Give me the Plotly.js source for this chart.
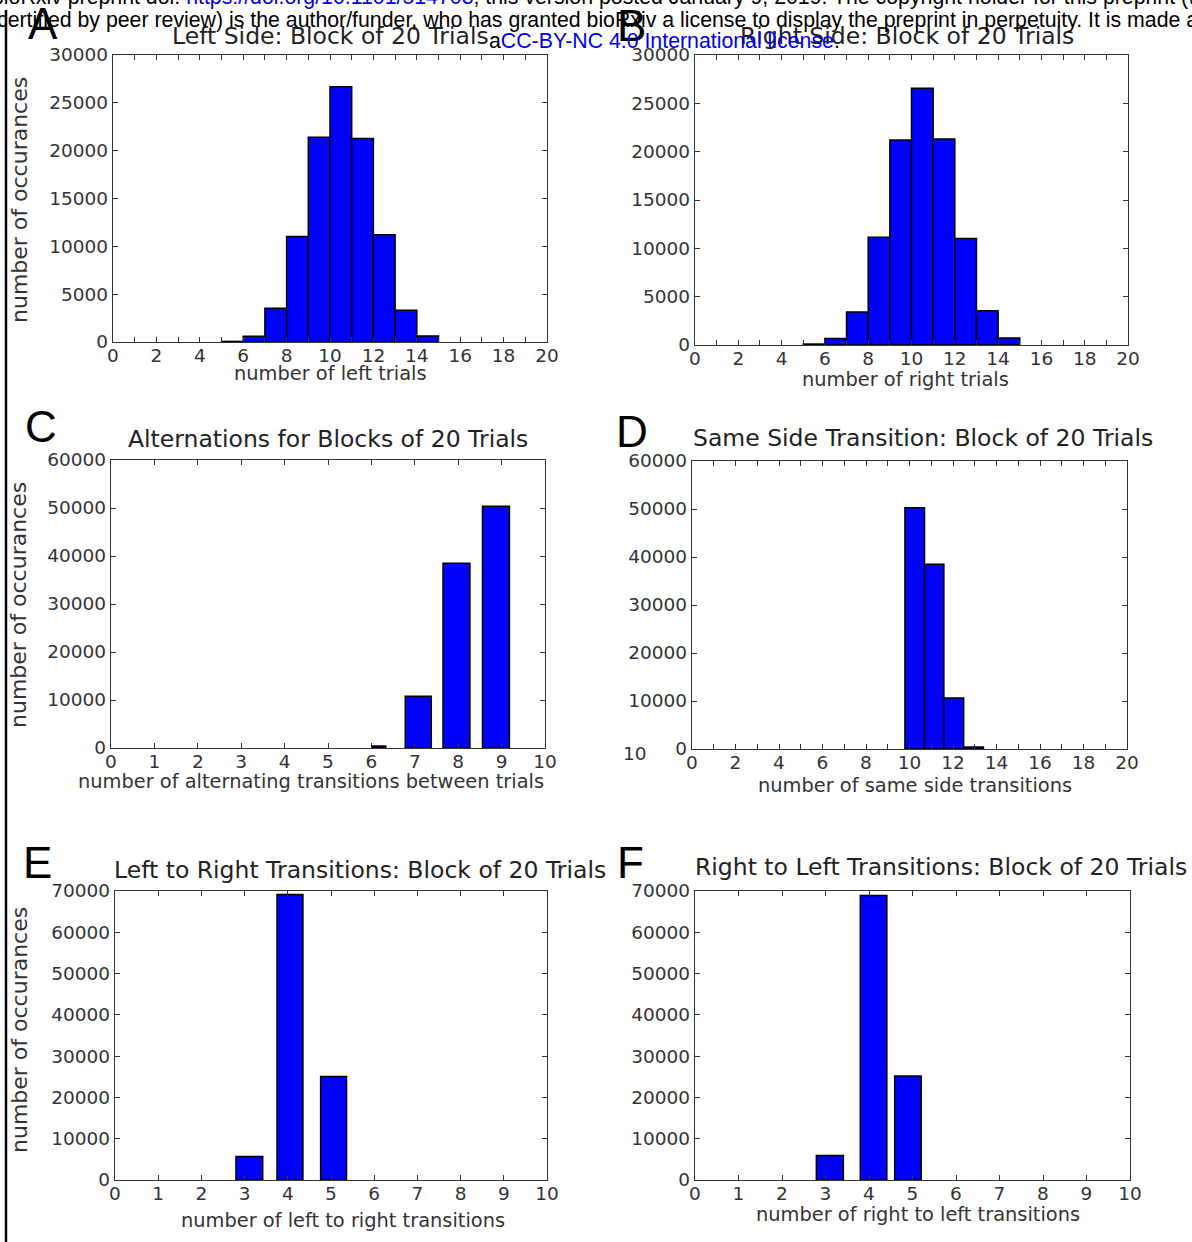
<!DOCTYPE html>
<html>
<head>
<meta charset="utf-8">
<script src="https://cdn.plot.ly/plotly-3.0.1.min.js"></script>
<style>html,body{margin:0;padding:0;background:#fff;}#chart{width:1192px;height:1242px;}</style>
</head>
<body>
<div id="chart"></div>
<script>
// ---------------- DATA ----------------
// A: number of left trials in a block of 20
const leftTrialsBinLo  = [5, 6, 7, 8, 9, 10, 11, 12, 13, 14];
const leftTrialsBinHi  = [6, 7, 8, 9, 10, 11, 12, 13, 14, 15];
const leftTrialsCounts = [60, 590, 3520, 11030, 21400, 26690, 21260, 11210, 3310, 630];

// B: number of right trials in a block of 20
const rightTrialsBinLo  = [5, 6, 7, 8, 9, 10, 11, 12, 13, 14];
const rightTrialsBinHi  = [6, 7, 8, 9, 10, 11, 12, 13, 14, 15];
const rightTrialsCounts = [100, 660, 3410, 11140, 21210, 26550, 21310, 11030, 3550, 720];

// C: number of alternating transitions between trials
const altBinLo  = [6.02, 6.78, 7.65, 8.56];
const altBinHi  = [6.33, 7.38, 8.27, 9.18];
const altCounts = [420, 10770, 38500, 50390];

// D: number of same side transitions
const sameBinLo  = [9.79, 10.69, 11.58, 12.49];
const sameBinHi  = [10.69, 11.58, 12.49, 13.40];
const sameCounts = [50250, 38500, 10630, 420];

// E: number of left to right transitions
const lrBinLo  = [2.80, 3.75, 4.76];
const lrBinHi  = [3.42, 4.35, 5.36];
const lrCounts = [5680, 69180, 25060];

// F: number of right to left transitions
const rlBinLo  = [2.79, 3.80, 4.59];
const rlBinHi  = [3.41, 4.41, 5.20];
const rlCounts = [5920, 68940, 25220];

// Texts
const panelLetters = ["A", "B", "C", "D", "E", "F"];
const panelTitles = [
  "Left Side: Block of 20 Trials",
  "Right Side: Block of 20 Trials",
  "Alternations for Blocks of 20 Trials",
  "Same Side Transition: Block of 20 Trials",
  "Left to Right Transitions: Block of 20 Trials",
  "Right to Left Transitions: Block of 20 Trials"
];
const xLabels = [
  "number of left trials",
  "number of right trials",
  "number of alternating transitions between trials",
  "number of same side transitions",
  "number of left to right transitions",
  "number of right to left transitions"
];
const yLabel = "number of occurances";
const xMax = [20, 20, 10, 20, 10, 10];
const xTickStep = [2, 2, 1, 2, 1, 1];
const yMax = [30000, 30000, 60000, 60000, 70000, 70000];
const yTickStep = [5000, 5000, 10000, 10000, 10000, 10000];

const headerLine1 = 'bioRxiv preprint doi: <span style="color:#0000ee">https://doi.org/10.1101/514703</span>; this version posted January 9, 2019. The copyright holder for this preprint (which was not';
const headerLine2 = 'certified by peer review) is the author/funder, who has granted bioRxiv a license to display the preprint in perpetuity. It is made available';
const headerLine3 = 'a<span style="color:#0000ee">CC-BY-NC 4.0 International license</span>.';

// ---------------- LAYOUT ----------------
const W = 1192, H = 1242;
const px = v => v / W;
const py = v => 1 - v / H;

// plot boxes in pixels [left, right, top, bottom]
const boxes = [
  [113, 547, 55, 342],
  [695, 1128, 55, 345],
  [111, 545, 460, 748],
  [692, 1127, 461, 749],
  [115, 547, 891, 1180],
  [695, 1130, 891, 1180]
];
const letterPos = [[43, 24], [631, 26], [41, 427], [632, 431], [37, 862], [630, 862]];
const titlePos  = [[330, 36], [907, 36], [328, 439], [923, 438], [360, 870], [941, 867]];
const xLabelPos = [[330, 373], [905, 379], [311, 781], [915, 785], [343, 1220], [918, 1214]];
const yLabelPos = [[19, 200], [19, 605], [19, 1030]];

const binSets = [
  [leftTrialsBinLo, leftTrialsBinHi, leftTrialsCounts],
  [rightTrialsBinLo, rightTrialsBinHi, rightTrialsCounts],
  [altBinLo, altBinHi, altCounts],
  [sameBinLo, sameBinHi, sameCounts],
  [lrBinLo, lrBinHi, lrCounts],
  [rlBinLo, rlBinHi, rlCounts]
];

const tickFont = {family: "DejaVu Sans", size: 18.5, color: "#333"};
const traces = [];
const layout = {
  width: W, height: H,
  margin: {l: 0, r: 0, t: 0, b: 0},
  paper_bgcolor: "#fff", plot_bgcolor: "#fff",
  showlegend: false,
  annotations: [],
  shapes: []
};

binSets.forEach((s, i) => {
  const [lo, hi, counts] = s;
  const n = i + 1;
  const xa = n === 1 ? "x" : "x" + n;
  const ya = n === 1 ? "y" : "y" + n;
  traces.push({
    type: "bar",
    x: lo.map((v, k) => (v + hi[k]) / 2),
    y: counts,
    width: lo.map((v, k) => hi[k] - v),
    xaxis: xa, yaxis: ya,
    marker: {color: "#0000ff", line: {color: "#000", width: 1.5}},
    hoverinfo: "x+y"
  });
  const b = boxes[i];
  const axCommon = {
    showline: true, mirror: "allticks", linecolor: "#333", linewidth: 1.3,
    ticks: "inside", ticklen: 5, tickcolor: "#333", tickwidth: 1,
    showgrid: false, zeroline: false, tickfont: tickFont,
    tickformat: "d", exponentformat: "none", separatethousands: false
  };
  const xKey = n === 1 ? "xaxis" : "xaxis" + n;
  const yKey = n === 1 ? "yaxis" : "yaxis" + n;
  layout[xKey] = Object.assign({}, axCommon, {
    domain: [px(b[0]), px(b[1])],
    anchor: ya,
    range: [0, xMax[i]],
    tick0: 0, dtick: xTickStep[i],
    ticklabelstandoff: -4
  });
  if (xTickStep[i] === 2) {
    layout[xKey].minor = {dtick: 1, ticks: "inside", ticklen: 5, tickcolor: "#333", showgrid: false};
  }
  layout[yKey] = Object.assign({}, axCommon, {
    domain: [py(b[3]), py(b[2])],
    anchor: xa,
    range: [0, yMax[i]],
    tick0: 0, dtick: yTickStep[i],
    ticklabelstandoff: 0
  });

  layout.annotations.push({
    xref: "paper", yref: "paper", x: px(letterPos[i][0]), y: py(letterPos[i][1]),
    text: panelLetters[i], showarrow: false, xanchor: "center", yanchor: "middle",
    font: {family: "Liberation Sans", size: 44, color: "#000"}
  });
  layout.annotations.push({
    xref: "paper", yref: "paper", x: px(titlePos[i][0]), y: py(titlePos[i][1]),
    text: panelTitles[i], showarrow: false, xanchor: "center", yanchor: "middle",
    font: {family: "DejaVu Sans", size: 23.5, color: "#222"}
  });
  layout.annotations.push({
    xref: "paper", yref: "paper", x: px(xLabelPos[i][0]), y: py(xLabelPos[i][1]),
    text: xLabels[i], showarrow: false, xanchor: "center", yanchor: "middle",
    font: {family: "DejaVu Sans", size: 19.4, color: "#333"}
  });
});

yLabelPos.forEach(p => {
  layout.annotations.push({
    xref: "paper", yref: "paper", x: px(p[0]), y: py(p[1]),
    text: yLabel, showarrow: false, textangle: -90, xanchor: "center", yanchor: "middle",
    font: {family: "DejaVu Sans", size: 22, color: "#333"}
  });
});

// stray "10" label left of panel D
layout.annotations.push({
  xref: "paper", yref: "paper", x: px(635), y: py(753),
  text: "10", showarrow: false, xanchor: "center", yanchor: "middle",
  font: tickFont
});

// bioRxiv header lines
const headFont = {family: "Liberation Sans", size: 21.3, color: "#000"};
layout.annotations.push({
  xref: "paper", yref: "paper", x: px(-10), y: py(-3),
  text: headerLine1, showarrow: false, xanchor: "left", yanchor: "middle", font: headFont
});
layout.annotations.push({
  xref: "paper", yref: "paper", x: px(-5), y: py(20),
  text: headerLine2, showarrow: false, xanchor: "left", yanchor: "middle", font: headFont
});
layout.annotations.push({
  xref: "paper", yref: "paper", x: px(664), y: py(41),
  text: headerLine3, showarrow: false, xanchor: "center", yanchor: "middle", font: headFont
});

// page border line on the left
layout.shapes.push({
  type: "line", xref: "paper", yref: "paper",
  x0: px(6), x1: px(6), y0: py(10), y1: py(1242),
  line: {color: "#000", width: 2.5}
});

Plotly.newPlot("chart", traces, layout, {displayModeBar: false, staticPlot: true});
</script>
</body>
</html>
